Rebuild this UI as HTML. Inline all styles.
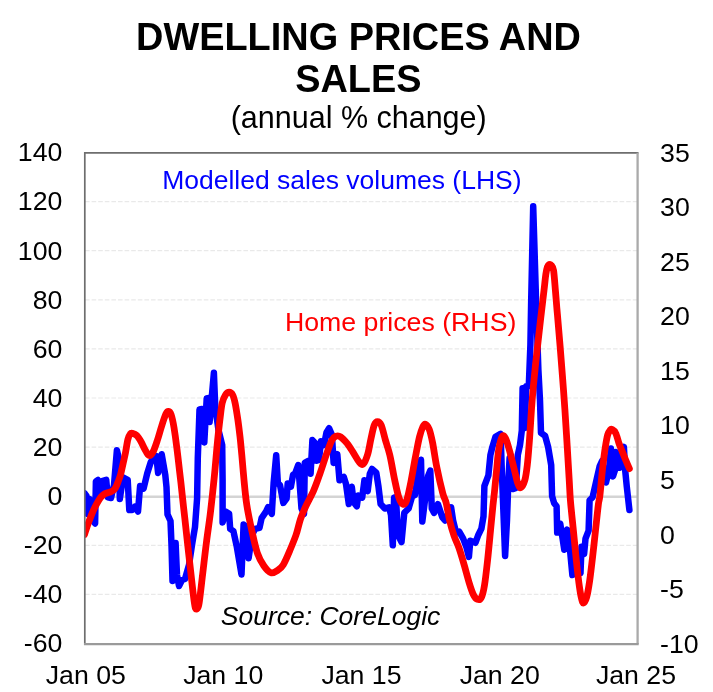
<!DOCTYPE html>
<html><head><meta charset="utf-8">
<style>
html,body{margin:0;padding:0;background:#fff;}
body{width:713px;height:692px;overflow:hidden;position:relative;font-family:"Liberation Sans",Arial,sans-serif;}
svg{position:absolute;left:0;top:0;}
text{font-family:"Liberation Sans",Arial,sans-serif;}
</style></head><body>
<svg width="713" height="692" viewBox="0 0 713 692">
<rect width="713" height="692" fill="#fff"/>
<!-- grid -->
<g stroke="#e9e9e9" stroke-width="1.2" stroke-dasharray="4.6 2" fill="none">
<path d="M85 201.6H637M85 250.7H637M85 299.8H637M85 348.9H637M85 398H637M85 447.1H637M85 545.3H637M85 594.4H637"/>
</g>
<path d="M85 496.8H637" stroke="#d4d4d4" stroke-width="2.6" fill="none"/>
<!-- curves -->
<defs><clipPath id="cp"><rect x="84.5" y="152.5" width="553" height="491"/></clipPath></defs>
<g id="curves" fill="none" stroke-linejoin="round" stroke-linecap="round" clip-path="url(#cp)">
<path id="blue" stroke="#0000ff" stroke-width="6.5" d="M84.5 493.3L86.5 496.0L87.8 514.0L89.6 499.0L91.5 505.0L93.0 521.0L95.1 523.5L95.9 481.4L98.0 480.0L99.9 497.0L102.0 481.0L106.2 479.8L107.8 497.3L111.0 498.0L114.0 485.0L116.9 450.3L119.0 459.0L119.8 498.9L123.0 477.4L127.7 479.8L129.3 510.0L132.0 510.0L134.9 506.8L138.0 511.6L140.1 486.1L143.6 488.5L147.2 473.5L150.8 462.1L154.5 456.4L156.3 456.0L158.1 473.0L161.7 454.2L165.3 475.1L166.5 487.0L167.5 514.4L170.5 521.0L171.5 545.0L172.5 581.0L174.0 570.0L175.6 543.0L177.0 575.0L179.0 586.0L182.0 580.0L185.0 579.0L189.0 565.0L192.0 545.0L195.0 527.0L197.1 498.3L197.8 457.8L199.5 409.5L202.0 409.0L204.3 442.4L206.7 398.4L208.0 398.0L209.6 421.9L213.9 372.8L215.3 407.8L218.5 430.0L222.2 445.0L222.6 480.0L222.6 522.4L225.8 511.6L229.1 513.8L230.2 528.9L233.4 531.1L236.7 546.3L241.5 574.5L243.6 524.6L245.5 526.0L248.6 558.2L252.0 535.0L255.1 528.9L259.5 527.9L261.6 518.1L266.0 511.6L268.1 507.2L271.8 513.8L273.6 483.4L276.2 455.2L277.9 483.4L280.0 485.0L283.3 502.9L286.6 498.6L287.7 483.4L290.9 486.6L293.1 474.7L295.0 473.8L298.3 465.0L301.5 508.5L304.0 514.0L304.8 462.9L308.0 461.0L310.6 473.8L312.4 440.1L315.0 443.0L316.7 460.7L319.0 460.0L321.0 441.2L324.0 445.0L326.5 432.5L329.1 428.2L331.9 434.7L333.6 462.9L337.3 454.2L339.5 480.3L343.8 477.0L346.0 484.0L348.8 504.1L351.8 486.8L353.6 502.0L356.8 506.3L358.3 495.4L362.2 497.6L364.4 480.3L367.7 491.1L369.8 473.8L372.0 469.0L376.3 472.7L378.5 486.8L380.6 504.1L384.8 508.5L389.1 507.4L391.0 515.0L392.8 545.3L394.1 497.6L396.0 497.0L397.8 534.5L401.5 542.1L404.3 512.8L408.6 508.5L413.0 493.3L415.0 495.0L418.4 471.6L421.0 459.7L422.3 521.5L425.0 500.0L428.1 475.9L430.3 470.5L431.8 508.5L434.0 512.8L437.9 504.1L440.1 510.6L442.2 517.1L445.0 520.5L451.1 507.3L453.1 520.5L456.1 532.6L459.2 531.6L463.2 538.7L466.3 546.8L468.9 556.9L470.3 540.7L475.4 542.8L478.4 534.7L481.4 528.6L483.5 516.4L484.4 486.0L488.4 475.3L490.4 455.0L492.4 446.9L495.5 436.8L500.6 433.8L501.8 470.0L505.1 556.0L507.0 520.0L508.4 480.0L509.6 458.0L511.5 476.0L513.3 489.0L515.9 488.0L517.8 455.0L520.0 445.0L521.8 430.7L522.6 388.2L524.6 428.0L526.3 386.2L528.8 386.0L530.4 345.0L531.1 305.0L533.2 206.3L536.2 305.0L538.4 370.0L540.0 400.4L541.0 432.8L545.1 435.8L548.1 446.9L551.2 465.1L552.1 496.2L554.2 503.3L556.6 506.3L557.2 532.6L560.2 523.5L562.3 536.7L564.3 549.8L567.3 529.6L570.0 550.0L572.4 575.1L577.0 572.0L580.5 573.0L581.5 546.8L584.1 553.9L585.5 538.7L588.6 530.6L589.6 500.2L592.6 497.2L596.9 478.1L599.7 466.0L602.0 461.0L604.0 472.0L606.0 482.5L609.0 470.0L610.9 448.6L613.0 476.4L615.0 470.0L615.9 452.1L618.0 454.0L619.9 467.7L623.9 446.9L625.1 469.4L626.8 486.8L629.4 510.0"/>
<path id="red" stroke="#ff0000" stroke-width="6.8" d="M84.5 534.5C85.1 532.8 86.7 527.5 88.0 524.0C89.3 520.5 90.9 516.1 92.1 513.3C93.3 510.5 94.0 509.0 95.0 507.0C96.0 505.0 97.2 502.9 98.2 501.2C99.2 499.5 100.0 498.2 101.0 497.0C102.0 495.8 103.3 494.8 104.3 494.1C105.3 493.4 106.0 493.4 107.0 493.0C108.0 492.6 109.3 492.4 110.3 492.0C111.3 491.6 112.2 491.2 113.0 490.5C113.8 489.8 114.6 489.4 115.4 488.0C116.2 486.6 117.2 484.2 118.0 482.0C118.8 479.8 119.7 477.9 120.5 474.9C121.3 471.9 122.2 467.7 123.0 464.0C123.8 460.3 124.7 456.7 125.5 452.6C126.3 448.5 127.1 442.5 127.9 439.4C128.7 436.3 129.4 435.0 130.2 434.0C130.9 433.0 131.3 433.1 132.4 433.3C133.5 433.6 135.3 434.1 136.8 435.5C138.3 436.9 139.9 439.7 141.2 442.0C142.5 444.3 143.5 447.0 144.8 449.2C146.1 451.4 147.4 454.9 148.8 455.4C150.2 455.9 151.6 454.5 153.0 452.0C154.4 449.5 155.9 444.8 157.3 440.5C158.8 436.2 160.2 430.5 161.7 426.0C163.1 421.5 164.9 416.1 166.0 413.7C167.1 411.2 167.7 411.2 168.5 411.3C169.3 411.4 170.2 411.8 171.1 414.5C172.0 417.2 173.1 422.0 174.0 427.5C174.9 433.0 175.9 440.2 176.8 447.7C177.8 455.2 178.7 463.9 179.7 472.3C180.7 480.7 181.8 490.6 182.6 498.3C183.4 506.0 183.8 509.3 184.8 518.2C185.8 527.2 187.2 540.7 188.5 552.0C189.8 563.3 191.4 577.9 192.3 585.9C193.2 593.9 193.5 596.3 194.0 600.0C194.5 603.7 194.9 606.9 195.5 608.3C196.1 609.7 196.9 609.2 197.5 608.3C198.1 607.4 198.3 608.4 199.2 602.8C200.0 597.2 201.4 584.6 202.6 574.6C203.8 564.6 205.1 552.6 206.4 542.6C207.7 532.6 209.2 522.5 210.2 514.4C211.2 506.3 211.7 501.5 212.5 494.0C213.3 486.5 214.2 478.3 215.0 469.4C215.8 460.5 216.7 449.2 217.6 440.5C218.5 431.8 219.4 423.6 220.2 417.3C221.0 411.1 221.3 406.8 222.2 403.0C223.1 399.2 224.3 396.6 225.5 394.8C226.7 393.0 227.9 392.2 229.1 392.2C230.3 392.2 231.7 393.1 232.7 395.0C233.7 396.9 234.3 399.3 235.2 403.4C236.0 407.4 237.0 413.8 237.8 419.3C238.6 424.8 239.3 430.7 240.0 436.6C240.7 442.6 241.1 447.8 241.8 455.0C242.5 462.2 243.2 471.6 244.0 480.0C244.8 488.4 245.5 496.6 246.8 505.1C248.1 513.6 250.2 523.2 251.9 531.1C253.7 539.0 255.3 547.0 257.3 552.8C259.3 558.6 261.5 562.5 263.8 565.8C266.1 569.1 268.6 572.1 271.0 572.8C273.4 573.5 275.8 571.6 277.9 570.2C279.9 568.9 281.3 568.0 283.3 564.7C285.3 561.4 287.7 555.6 289.8 550.6C291.9 545.6 294.2 540.2 296.0 535.0C297.8 529.8 298.8 524.1 300.4 519.3C302.0 514.5 303.6 511.0 305.8 506.3C308.0 501.6 311.0 496.5 313.4 491.1C315.8 485.7 317.7 480.0 319.9 473.8C322.1 467.6 324.5 459.8 326.5 454.2C328.5 448.6 330.3 443.1 331.9 440.1C333.5 437.1 334.8 436.7 336.2 436.1C337.6 435.6 338.8 435.6 340.6 436.8C342.4 438.0 344.9 440.7 347.1 443.4C349.3 446.1 351.6 450.0 353.6 453.1C355.6 456.2 357.4 460.0 359.0 461.8C360.6 463.6 361.9 465.3 363.3 464.0C364.8 462.7 366.4 458.4 367.7 454.2C369.0 450.0 369.8 443.8 370.9 439.0C372.0 434.2 373.1 428.2 374.2 425.3C375.3 422.4 376.2 421.6 377.4 421.6C378.6 421.6 380.0 422.2 381.3 425.3C382.6 428.4 384.0 435.1 385.4 440.0C386.8 444.9 388.2 448.3 389.8 455.0C391.4 461.7 393.2 472.9 394.7 480.0C396.2 487.1 397.5 493.6 398.9 497.6C400.2 501.6 401.5 503.6 402.8 504.1C404.1 504.7 405.2 504.5 406.5 500.9C407.8 497.3 409.4 489.4 410.8 482.4C412.2 475.3 413.7 466.2 415.1 458.6C416.6 451.0 418.2 442.1 419.5 436.9C420.8 431.6 421.7 429.2 422.7 427.1C423.7 425.0 424.2 423.9 425.3 424.3C426.4 424.7 428.0 426.3 429.2 429.3C430.4 432.3 431.2 436.0 432.5 442.3C433.8 448.6 435.1 458.7 436.8 467.2C438.5 475.7 441.2 487.3 442.8 493.3C444.4 499.3 445.1 498.6 446.2 503.0C447.3 507.4 448.2 514.5 449.5 520.0C450.8 525.5 452.5 531.3 454.1 536.0C455.7 540.7 457.3 543.2 459.0 548.0C460.7 552.8 462.5 559.1 464.2 565.0C465.9 570.9 467.8 578.3 469.3 583.2C470.8 588.1 472.0 591.7 473.3 594.4C474.6 597.1 476.0 598.9 477.4 599.4C478.8 599.9 480.2 599.8 481.4 597.4C482.6 595.0 483.5 591.4 484.5 585.3C485.5 579.2 486.5 570.1 487.5 561.0C488.5 551.9 489.6 539.9 490.5 530.6C491.4 521.3 492.3 511.5 493.0 505.0C493.7 498.5 493.9 497.1 494.5 491.5C495.1 485.9 495.8 477.9 496.5 471.2C497.2 464.4 497.7 456.4 498.5 451.0C499.3 445.6 500.3 441.3 501.2 438.8C502.1 436.3 502.7 435.5 503.6 435.8C504.5 436.1 505.4 437.7 506.6 440.9C507.8 444.1 509.3 449.9 510.7 455.0C512.0 460.1 513.5 466.5 514.7 471.2C515.9 475.9 516.8 480.7 517.8 483.4C518.8 486.1 519.6 488.1 520.8 487.6C522.0 487.1 523.7 484.1 524.8 480.3C525.9 476.6 526.5 471.7 527.3 465.1C528.1 458.5 528.7 450.0 529.4 440.9C530.1 431.8 530.8 419.3 531.4 410.5C532.0 401.7 532.3 397.8 533.2 388.0C534.1 378.2 535.7 363.1 536.9 351.8C538.1 340.5 539.3 330.2 540.5 320.0C541.7 309.8 543.1 298.0 544.0 290.4C544.9 282.8 545.2 278.4 545.8 274.5C546.4 270.6 546.8 268.7 547.4 267.0C548.0 265.3 548.6 264.8 549.3 264.5C550.0 264.2 550.8 264.5 551.5 265.5C552.2 266.5 553.0 266.4 553.6 270.5C554.2 274.6 554.9 284.6 555.4 290.4C555.9 296.1 556.3 301.0 556.6 305.0C556.9 309.0 556.8 307.4 557.4 314.3C558.0 321.2 559.1 333.5 560.1 346.1C561.1 358.7 562.4 375.2 563.5 390.0C564.6 404.8 565.6 420.0 566.5 434.7C567.4 449.4 568.5 467.2 569.1 478.1C569.8 489.0 569.7 491.4 570.4 500.2C571.1 508.9 572.4 520.5 573.4 530.6C574.4 540.7 575.4 551.5 576.4 561.0C577.4 570.5 578.6 581.1 579.5 587.3C580.4 593.5 580.8 595.8 581.5 598.4C582.2 601.0 582.6 603.2 583.5 603.0C584.4 602.8 585.6 601.0 586.6 597.4C587.6 593.8 588.6 588.0 589.6 581.2C590.6 574.5 591.6 565.7 592.6 556.9C593.6 548.1 594.8 537.2 595.7 528.6C596.7 520.0 597.6 510.5 598.3 505.0C599.0 499.5 599.2 501.4 599.9 495.5C600.6 489.6 601.6 477.2 602.5 469.4C603.4 461.6 604.2 454.4 605.1 448.6C606.0 442.8 606.8 437.8 607.7 434.7C608.6 431.6 609.6 430.8 610.3 429.9C611.0 429.0 611.2 429.0 612.1 429.5C613.0 430.0 614.5 430.7 615.6 433.0C616.8 435.3 617.9 440.2 619.0 443.4C620.1 446.6 621.3 449.2 622.5 452.1C623.7 455.0 624.9 458.1 626.0 460.8C627.1 463.6 628.8 467.3 629.4 468.6"/>
</g>
<!-- frame -->
<path d="M84.8 645V152.8H638.5" stroke="#6e6e6e" stroke-width="1.7" fill="none"/>
<path d="M637.6 152.8V644.1" stroke="#aaaaaa" stroke-width="2.3" fill="none"/>
<path d="M84 644.1H638.7" stroke="#9a9a9a" stroke-width="2.2" fill="none"/>
<!-- title -->
<g text-anchor="middle" fill="#000">
<text x="358.5" y="49.7" font-size="37.9" font-weight="bold">DWELLING PRICES AND</text>
<text x="358.3" y="92.2" font-size="37.9" font-weight="bold">SALES</text>
<text x="358.7" y="128.4" font-size="30.5" fill="#000">(annual % change)</text>
</g>
<g font-size="26.7" fill="#000" text-anchor="end">
<text x="62.4" y="161.3">140</text>
<text x="62.4" y="210.4">120</text>
<text x="62.4" y="259.5">100</text>
<text x="62.4" y="308.6">80</text>
<text x="62.4" y="357.7">60</text>
<text x="62.4" y="406.8">40</text>
<text x="62.4" y="455.9">20</text>
<text x="62.4" y="505.0">0</text>
<text x="62.4" y="554.1">-20</text>
<text x="62.4" y="603.2">-40</text>
<text x="62.4" y="652.3">-60</text>
</g>
<g font-size="26.7" fill="#000" text-anchor="start">
<text x="660.1" y="161.6">35</text>
<text x="660.1" y="216.2">30</text>
<text x="660.1" y="270.7">25</text>
<text x="660.1" y="325.3">20</text>
<text x="660.1" y="379.8">15</text>
<text x="660.1" y="434.4">10</text>
<text x="660.1" y="488.9">5</text>
<text x="660.1" y="543.5">0</text>
<text x="660.1" y="598.0">-5</text>
<text x="660.1" y="652.6">-10</text>
</g>
<g font-size="26.7" fill="#000" text-anchor="middle">
<text x="85.8" y="684">Jan 05</text>
<text x="223.2" y="684">Jan 10</text>
<text x="361.5" y="684">Jan 15</text>
<text x="499.7" y="684">Jan 20</text>
<text x="636" y="684">Jan 25</text>
</g>
<text x="162.2" y="189" font-size="26.5" fill="#0000ff">Modelled sales volumes (LHS)</text>
<text x="285" y="331" font-size="26.7" fill="#ff0000">Home prices (RHS)</text>
<text x="220.8" y="625" font-size="26.5" font-style="italic" fill="#000">Source: CoreLogic</text>
</svg>
</body></html>
